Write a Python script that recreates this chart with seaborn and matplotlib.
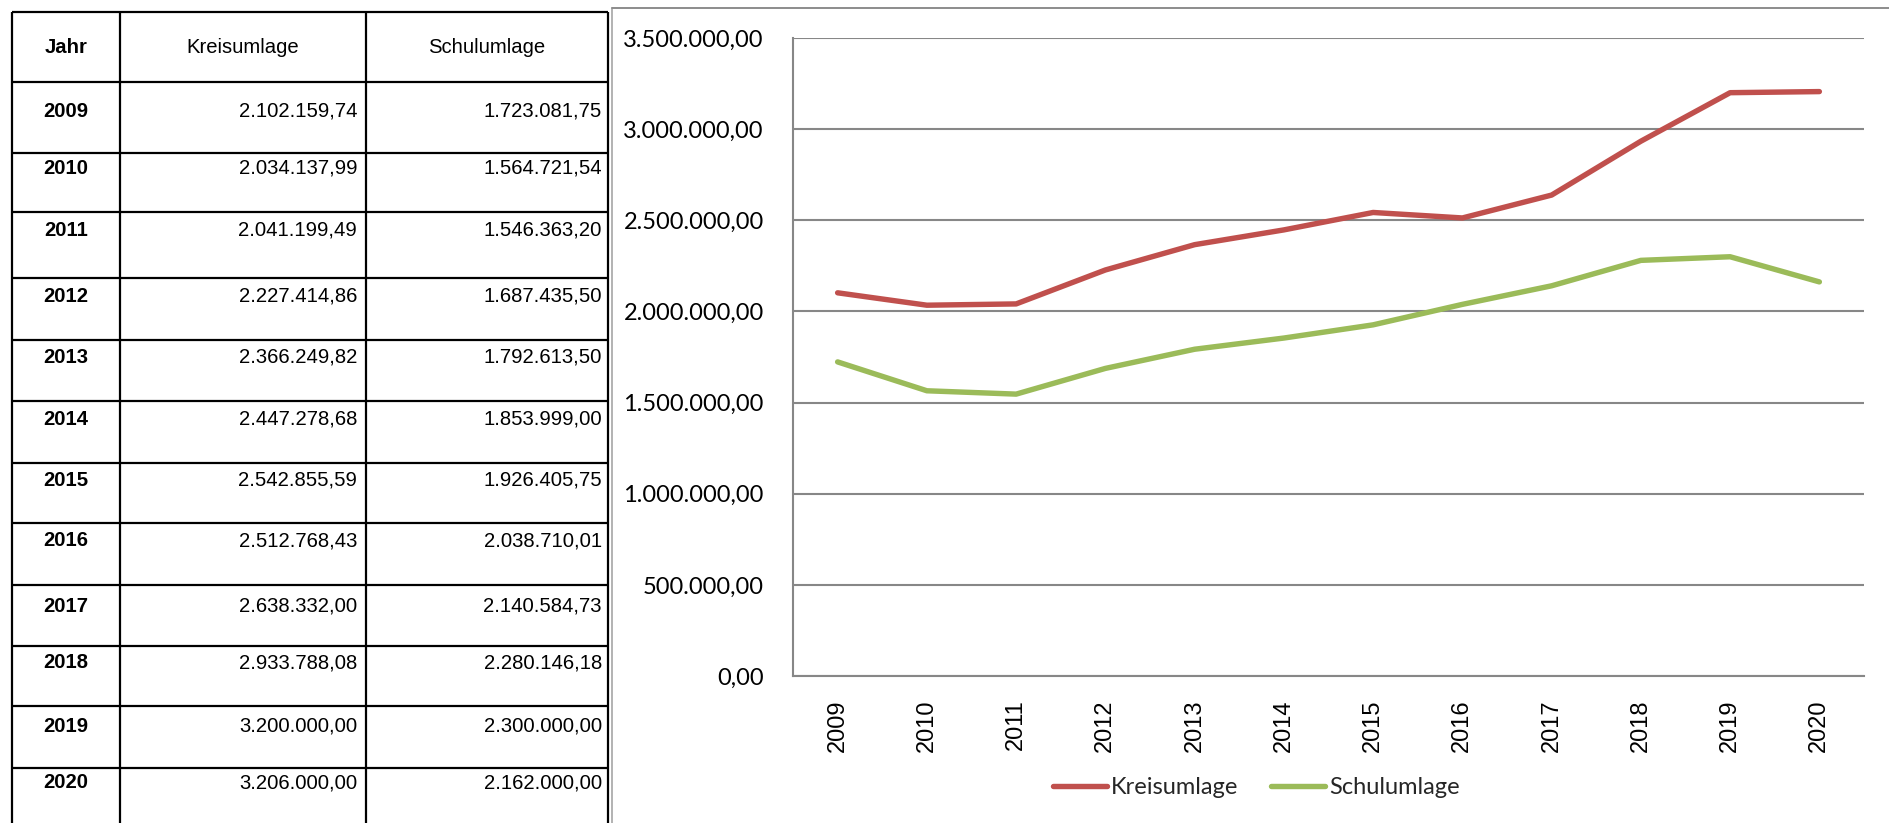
import matplotlib
matplotlib.use("Agg")
import matplotlib.pyplot as plt
import seaborn as sns
import pandas as pd
import numpy as np
from matplotlib.ticker import FixedLocator, FuncFormatter
from matplotlib.lines import Line2D

# ---------------- data ----------------
years = ["2009", "2010", "2011", "2012", "2013", "2014", "2015", "2016", "2017", "2018", "2019", "2020"]
kreisumlage = [2102159.74, 2034137.99, 2041199.49, 2227414.86, 2366249.82, 2447278.68,
               2542855.59, 2512768.43, 2638332.00, 2933788.08, 3200000.00, 3206000.00]
schulumlage = [1723081.75, 1564721.54, 1546363.20, 1687435.50, 1792613.50, 1853999.00,
               1926405.75, 2038710.01, 2140584.73, 2280146.18, 2300000.00, 2162000.00]
series_names = ["Kreisumlage", "Schulumlage"]
header = ["Jahr", "Kreisumlage", "Schulumlage"]
y_ticks = [0, 500000, 1000000, 1500000, 2000000, 2500000, 3000000, 3500000]
colors = ["#C0504D", "#9BBB59"]


def de_fmt(v):
    s = f"{v:,.2f}"
    return s.replace(",", "X").replace(".", ",").replace("X", ".")


sns.set_theme(style="white")
plt.rcParams["font.family"] = ["Liberation Sans", "DejaVu Sans"]

W, H = 1890, 823
fig = plt.figure(figsize=(W / 100, H / 100), dpi=100)
fig.patch.set_facecolor("white")

# ---------------- table / frame (overlay in pixel coords) ----------------
axt = fig.add_axes([0, 0, 1, 1])
axt.set_xlim(0, W)
axt.set_ylim(H, 0)
axt.axis("off")

col_x = [12, 120, 366, 608]
row_y = [12, 82, 153, 212, 278, 340, 401, 463, 523, 585, 646, 706, 768]
text_y = [111, 168, 230, 296, 357, 419, 480, 541, 606, 663, 726, 783]

for x in col_x:
    axt.plot([x, x], [row_y[0], H], color="black", lw=1.6, solid_capstyle="butt")
for y in row_y:
    axt.plot([col_x[0], col_x[-1]], [y, y], color="black", lw=1.6, solid_capstyle="butt")

# chart frame (grey)
axt.plot([612, 612], [8, H], color="#A6A6A6", lw=1.2)
axt.plot([612, W], [8, 8], color="#8C8C8C", lw=1.4)

fs_t = 14.6
axt.text((col_x[0] + col_x[1]) / 2, 47, header[0], ha="center", va="center",
         fontsize=fs_t, fontweight="bold", color="black")
axt.text((col_x[1] + col_x[2]) / 2, 47, header[1], ha="center", va="center",
         fontsize=fs_t, color="black")
axt.text((col_x[2] + col_x[3]) / 2, 47, header[2], ha="center", va="center",
         fontsize=fs_t, color="black")
for i, yr in enumerate(years):
    ty = text_y[i]
    axt.text((col_x[0] + col_x[1]) / 2, ty, yr, ha="center", va="center",
             fontsize=fs_t, fontweight="bold", color="black")
    axt.text(col_x[2] - 9, ty, de_fmt(kreisumlage[i]), ha="right", va="center",
             fontsize=fs_t, color="black")
    axt.text(col_x[3] - 6, ty, de_fmt(schulumlage[i]), ha="right", va="center",
             fontsize=fs_t, color="black")

# ---------------- line chart ----------------
left, right = 793 / W, 1864 / W
bottom, top = (H - 676) / H, (H - 38) / H
ax = fig.add_axes([left, bottom, right - left, top - bottom])
ax.set_facecolor("white")

df = pd.DataFrame({
    "pos": list(range(len(years))) * 2,
    "value": kreisumlage + schulumlage,
    "series": [series_names[0]] * len(years) + [series_names[1]] * len(years),
})
sns.lineplot(data=df, x="pos", y="value", hue="series", hue_order=series_names,
             palette=colors, linewidth=3.9, ax=ax, legend=False,
             solid_capstyle="round", solid_joinstyle="round")

ax.set_xlim(-0.5, len(years) - 0.5)
ax.set_ylim(0, 3500000)
ax.set_xlabel("")
ax.set_ylabel("")

grid_c = "#878787"
ax.yaxis.set_major_locator(FixedLocator(y_ticks))
ax.yaxis.set_major_formatter(FuncFormatter(lambda v, p: de_fmt(v)))
ax.yaxis.grid(True, color=grid_c, lw=1.5)
ax.xaxis.grid(False)
ax.set_axisbelow(True)

ax.set_xticks(range(len(years)))
ax.set_xticklabels(years, rotation=90, fontsize=17, family=["Liberation Sans", "DejaVu Sans"])
ax.set_xticks(np.arange(-0.5, len(years) + 0.5, 1.0), minor=True)
ax.tick_params(axis="x", which="major", length=0, pad=17, colors="black")
ax.tick_params(axis="x", which="minor", length=7, width=1.2, color=grid_c, direction="out")
ax.tick_params(axis="y", which="major", length=8, width=1.2, color=grid_c,
               direction="out", pad=13, labelsize=17, labelcolor="black")
for lbl in ax.get_yticklabels():
    lbl.set_family(["Lato", "DejaVu Sans"])
for lbl in ax.get_xticklabels():
    lbl.set_va("top")

for s in ["top", "right"]:
    ax.spines[s].set_visible(False)
for s in ["left", "bottom"]:
    ax.spines[s].set_color(grid_c)
    ax.spines[s].set_linewidth(1.5)

handles = [Line2D([0], [0], color=c, lw=3.9, solid_capstyle="round") for c in colors]
fig.legend(handles, series_names, loc="center", bbox_to_anchor=(1256 / W, (H - 788) / H),
           ncol=2, frameon=False, prop={"family": ["Lato", "DejaVu Sans"], "size": 17},
           handlelength=2.3, handletextpad=0.15, columnspacing=1.4)

fig.savefig("out.png", dpi=100, facecolor="white")
